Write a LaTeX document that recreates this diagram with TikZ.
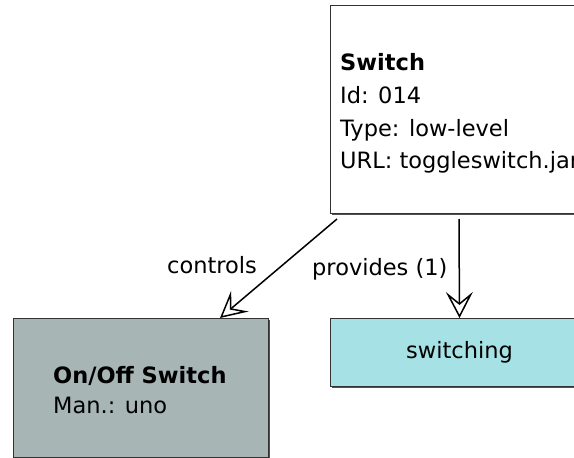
\documentclass[tikz,border=0pt]{standalone}
\usepackage{fontspec}
\setmainfont{DejaVu Sans}
\usetikzlibrary{arrows.meta,shadows}

\definecolor{devgray}{RGB}{167,181,181}
\definecolor{featcyan}{RGB}{166,225,229}
\definecolor{edgegray}{RGB}{50,50,50}

\tikzset{
  box/.style={draw=edgegray, line width=1pt, inner sep=0pt, anchor=north west,
    drop shadow={shadow xshift=1.3pt, shadow yshift=-1.3pt, opacity=0.85, fill=black!80}},
  txt/.style={anchor=base west, inner sep=0pt},
  conn/.style={line width=1.5pt, -{Stealth[open, length=26pt, width=27pt, inset=11pt]}},
}

\begin{document}
\begin{tikzpicture}[x=1pt, y=-1pt, font=\fontsize{22.5}{27}\selectfont]
\useasboundingbox (0,0) rectangle (574,458);
\clip (0,0) rectangle (574,458);

% component boxes
\node[box, fill=white, minimum width=300, minimum height=208] (sw) at (330,5) {};
\node[box, fill=devgray, minimum width=255, minimum height=139] (oo) at (13,318) {};
\node[box, fill=featcyan, minimum width=258, minimum height=68] (feat) at (330,318) {};

% Switch component
\node[txt] (swname) at (340,70.5) {\bfseries Switch};
\node[txt] (swid) at (340,103.5) {Id: 014};
\node[txt] (swtype) at (340,136) {Type: low-level};
\node[txt] (swurl) at (340,168) {URL: toggleswitch.jar};

% On/Off device
\node[txt] (ooname) at (53,383) {\bfseries On/Off Switch};
\node[txt] (ooman) at (53,413) {Man.: uno};

% provided feature
\node[anchor=center, inner sep=0pt] (featname) at (feat.center) {switching};

% relations
\draw[conn] ([shift={(7,5)}]sw.south west) -- ([xshift=207]oo.north west);
\draw[conn] ([shift={(129,5)}]sw.south west) -- (feat.north);
\node[txt] (lblctrl) at (167,273) {controls};
\node[txt] (lblprov) at (312,275) {provides (1)};
\end{tikzpicture}
\end{document}
